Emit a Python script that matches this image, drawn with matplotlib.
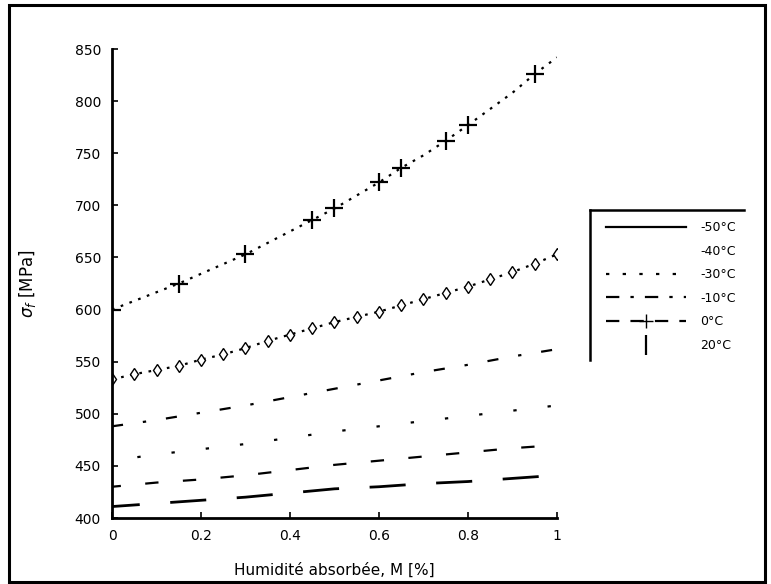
import matplotlib
matplotlib.use("Agg")
import matplotlib.pyplot as plt
from matplotlib.lines import Line2D
import matplotlib.patches as patches

# x values (absorbed humidity, %)
x_top = [0, 0.15, 0.3, 0.35, 0.45, 0.5, 0.6, 0.65, 0.7, 0.75, 0.8, 0.9, 0.95, 1.0]
y_top = [600, 625, 653, 664, 686, 697, 722, 736, 748, 762, 777, 808, 826, 842]

x_fine = [0, 0.05, 0.1, 0.15, 0.2, 0.25, 0.3, 0.35, 0.4, 0.45, 0.5,
          0.55, 0.6, 0.65, 0.7, 0.75, 0.8, 0.85, 0.9, 0.95, 1.0]
y_diam = [533, 538, 542, 546, 552, 557, 563, 570, 576, 582, 588,
          593, 598, 604, 610, 616, 622, 629, 636, 644, 653]

x_lin = [0, 0.1, 0.2, 0.3, 0.4, 0.5, 0.6, 0.7, 0.8, 0.9, 1.0]
y_dashdot = [488, 494, 501, 508, 516, 524, 532, 540, 547, 555, 562]
y_dot = [455, 461, 466, 471, 477, 483, 488, 493, 498, 503, 508]
y_dash = [430, 434, 437, 441, 446, 451, 455, 459, 463, 467, 470]
y_long = [411, 414, 417, 420, 424, 428, 430, 433, 435, 438, 441]

legend_labels = ["-50°C", "-40°C", "-30°C", "-10°C", "0°C", "20°C"]
x_ticks = [0, 0.2, 0.4, 0.6, 0.8, 1]
x_tick_labels = ["0", "0.2", "0.4", "0.6", "0.8", "1"]
y_ticks = [400, 450, 500, 550, 600, 650, 700, 750, 800, 850]

plt.rcParams['font.family'] = ['DejaVu Sans']

fig = plt.figure(figsize=(7.71, 5.84), dpi=100)
ax = fig.add_axes([0.1453, 0.113, 0.577, 0.803])

lw = 1.6
ax.plot(x_top, y_top, color='black', linestyle=(0, (1.2, 3.0)), linewidth=lw,
        marker='+', markersize=13, markeredgewidth=1.6,
        markevery=[0, 1, 2, 4, 5, 6, 7, 9, 10, 12])
ax.plot(x_fine, y_diam, color='black', linestyle=(0, (1.2, 3.0)), linewidth=lw,
        marker='d', markersize=6, markerfacecolor='white', markeredgewidth=1.0)
ax.plot(x_lin, y_dashdot, color='black', linestyle=(0, (5, 9, 1.5, 9)), linewidth=lw)
ax.plot(x_lin, y_dot, color='black', linestyle=(4, (1.5, 14)), linewidth=lw)
ax.plot(x_lin, y_dash, color='black', linestyle=(2, (6, 11)), linewidth=lw)
ax.plot(x_lin, y_long, color='black', linestyle=(3, (13, 11)), linewidth=2.0)

ax.set_xlim(0, 1)
ax.set_ylim(400, 850)
ax.set_xticks(x_ticks)
ax.set_xticklabels(x_tick_labels)
ax.set_yticks(y_ticks)
ax.spines['top'].set_visible(False)
ax.spines['right'].set_visible(False)
ax.spines['left'].set_linewidth(2)
ax.spines['bottom'].set_linewidth(2)
ax.tick_params(direction='in', length=4, width=1.2, labelsize=10, pad=8)
ax.set_xlabel("Humidité absorbée, M [%]", fontsize=11, labelpad=14)
ax.set_ylabel(r"$\sigma_f$ [MPa]", fontsize=12, labelpad=26)

# legend with proxy handles
handles = [
    Line2D([], [], color='black', linestyle='-', linewidth=lw),
    Line2D([], [], color='white', linestyle='-', linewidth=lw),
    Line2D([], [], color='black', linestyle=(0, (1.5, 6)), linewidth=lw),
    Line2D([], [], color='black', linestyle=(0, (6, 5, 1.5, 5)), linewidth=lw),
    Line2D([], [], color='black', linestyle=(0, (6, 5)), linewidth=lw,
           marker='+', markersize=10),
    Line2D([], [], color='black', linestyle='none', marker='|', markersize=14,
           markeredgewidth=1.6),
]
leg = fig.legend(handles, legend_labels, loc='upper left',
                 bbox_to_anchor=(0.772, 0.641), frameon=False, fontsize=9,
                 handlelength=6.4, handletextpad=1.1, labelspacing=0.85)

# legend frame: only top and left edges
fig.add_artist(Line2D([0.765, 0.965], [0.640, 0.640], transform=fig.transFigure,
                      color='black', linewidth=1.8))
fig.add_artist(Line2D([0.765, 0.765], [0.640, 0.384], transform=fig.transFigure,
                      color='black', linewidth=1.8))

# outer image border
fig.add_artist(patches.Rectangle((0.012, 0.003), 0.98, 0.988, transform=fig.transFigure,
                                 fill=False, edgecolor='black', linewidth=2.2))

fig.savefig("out.png", dpi=100)
